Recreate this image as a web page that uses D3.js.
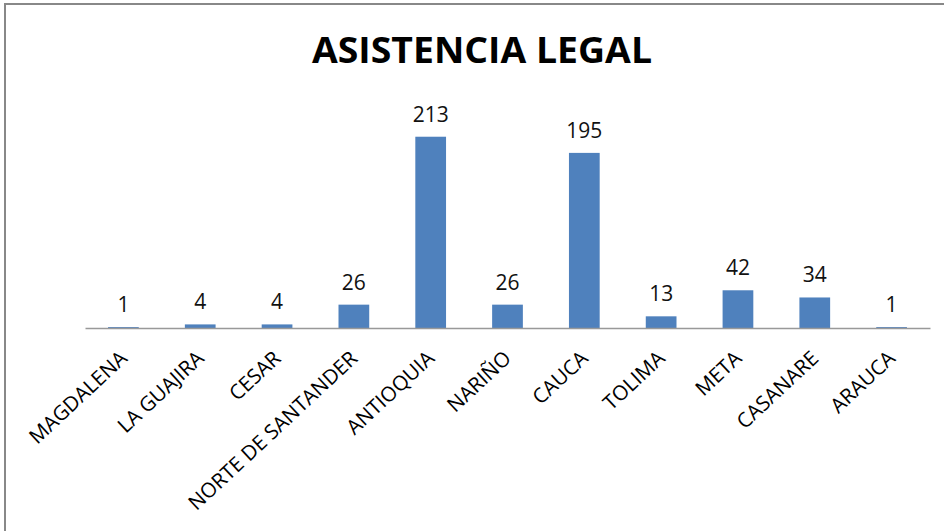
<!DOCTYPE html>
<html lang="es">
<head>
<meta charset="utf-8">
<title>Asistencia legal</title>
<script src="https://cdn.jsdelivr.net/npm/d3@7"></script>
<style>
  body { margin: 0; background: #fff; }
  text { font-family: "Open Sans", sans-serif; fill: #000; }
</style>
</head>
<body>
<script>
// data
var categories = ["MAGDALENA", "LA GUAJIRA", "CESAR", "NORTE DE SANTANDER", "ANTIOQUIA",
  "NARIÑO", "CAUCA", "TOLIMA", "META", "CASANARE", "ARAUCA"];
var values = [1, 4, 4, 26, 213, 26, 195, 13, 42, 34, 1];
var title = "ASISTENCIA LEGAL";

var w = 944, h = 531;
var left = 85, right = 930, baseY = 328, topY = 103.5;

var svg = d3.select("body").append("svg")
  .attr("width", w)
  .attr("height", h);

// frame (only left/top edges visible in crop)
svg.append("rect").attr("x", 5).attr("y", 4).attr("width", w + 10).attr("height", h + 10)
  .attr("fill", "#fff").attr("stroke", "#888").attr("stroke-width", 2);

var x = d3.scaleBand()
  .domain(categories)
  .range([left, right])
  .paddingInner(0.6)
  .paddingOuter(0.3);

var y = d3.scaleLinear()
  .domain([0, 250])
  .range([baseY, topY]);

// title
svg.append("text")
  .attr("x", 312).attr("y", 63)
  .attr("textLength", 340).attr("lengthAdjust", "spacingAndGlyphs")
  .style("font-size", "35px").style("font-weight", "bold")
  .text(title);

// bars
svg.selectAll("rect.bar")
  .data(values)
  .enter()
  .append("rect")
  .attr("class", "bar")
  .attr("x", function(d, i) { return x(categories[i]); })
  .attr("y", function(d) { return y(d); })
  .attr("width", x.bandwidth())
  .attr("height", function(d) { return baseY - y(d); })
  .attr("fill", "#4F81BD");

// value labels
svg.selectAll("text.val")
  .data(values)
  .enter()
  .append("text")
  .attr("class", "val")
  .attr("x", function(d, i) { return x(categories[i]) + x.bandwidth() / 2; })
  .attr("y", function(d) { return y(d) - 15; })
  .attr("text-anchor", "middle")
  .style("font-size", "21px")
  .style("fill", "#111")
  .text(function(d) { return d; });

// x axis
var xAxis = d3.axisBottom(x).tickSize(0).tickPadding(0);
var gx = svg.append("g")
  .attr("transform", "translate(0," + baseY + ")")
  .call(xAxis);
gx.select(".domain").attr("stroke", "#999").attr("stroke-width", 1.5);
gx.selectAll("text")
  .attr("y", 0).attr("dy", 0)
  .attr("text-anchor", "end")
  .attr("transform", "translate(5,32) rotate(-43)")
  .style("font-family", "'Open Sans', sans-serif")
  .style("font-size", "20.5px")
  .style("fill", "#000");
</script>
</body>
</html>
